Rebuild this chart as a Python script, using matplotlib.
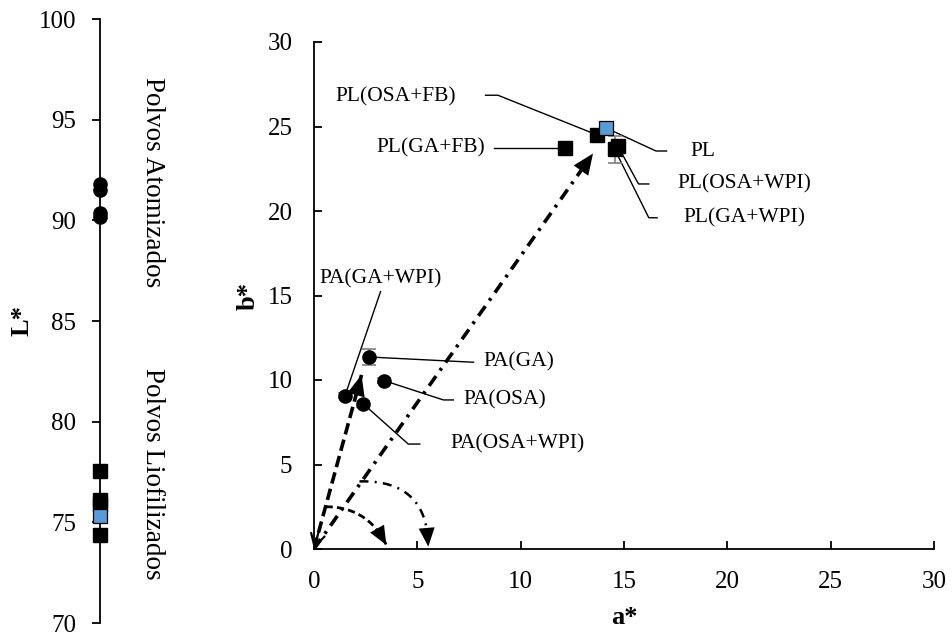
import numpy as np
import matplotlib.pyplot as plt

plt.rcParams['font.family'] = ['Liberation Serif', 'DejaVu Serif']

# Polvos liofilizados (squares)
lyo_labels = ['PL', 'PL(OSA+FB)', 'PL(GA+FB)', 'PL(OSA+WPI)', 'PL(GA+WPI)']
lyo_a = [14.15, 13.7, 12.15, 14.7, 14.55]
lyo_b = [24.9, 24.5, 23.75, 23.85, 23.65]
lyo_b_err = [0.15, 0.15, 0.15, 0.2, 0.8]
lyo_L = [75.3, 76.1, 77.55, 75.9, 74.35]

# Polvos atomizados (circles)
atom_labels = ['PA(GA)', 'PA(OSA)', 'PA(OSA+WPI)', 'PA(GA+WPI)']
atom_a = [2.68, 3.40, 2.39, 1.50]
atom_b = [11.36, 9.96, 8.58, 9.07]
atom_b_err = [0.47, 0.15, 0.15, 0.15]
atom_L = [91.8, 91.5, 90.35, 90.15]

# hue direction of each powder group
pa_hue = (2.3, 10.3)
pl_hue = (13.5, 23.4)

# label text anchor and leader knots (from the marker outward)
label_layout = {
    'PL':          dict(text=(18.2, 23.55), ha='left',   knots=[(16.55, 23.55), (17.06, 23.55)]),
    'PL(OSA+FB)':  dict(text=(6.85, 26.75), ha='right',  knots=[(8.9, 26.85), (8.3, 26.85)]),
    'PL(GA+FB)':   dict(text=(8.3, 23.75),  ha='right',  knots=[(8.7, 23.75)]),
    'PL(OSA+WPI)': dict(text=(17.6, 21.6),  ha='left',   knots=[(15.7, 21.6), (16.2, 21.6)]),
    'PL(GA+WPI)':  dict(text=(17.9, 19.6),  ha='left',   knots=[(16.2, 19.6), (16.6, 19.6)]),
    'PA(GA)':      dict(text=(8.2, 11.05),  ha='left',   knots=[(7.72, 11.05)]),
    'PA(OSA)':     dict(text=(7.22, 8.82),  ha='left',   knots=[(6.26, 8.82), (6.74, 8.82)]),
    'PA(OSA+WPI)': dict(text=(6.58, 6.21),  ha='left',   knots=[(4.56, 6.21), (5.12, 6.21)]),
    'PA(GA+WPI)':  dict(text=(3.24, 16.0),  ha='center', knots=[(3.22, 15.23)]),
}

W, H = 952, 639
TICK_FS = 18
LABEL_FS = 15.5
BLUE = '#5B9BD5'


def px_box(x0, y0, x1, y1):
    return [x0 / W, 1 - y1 / H, (x1 - x0) / W, (y1 - y0) / H]


def bezier(p0, p1, p2, n=80):
    t = np.linspace(0, 1, n)[:, None]
    p0, p1, p2 = np.array(p0), np.array(p1), np.array(p2)
    return (1 - t) ** 2 * p0 + 2 * (1 - t) * t * p1 + t ** 2 * p2


def head(ax, tip, tail, size=20):
    # filled triangular head only, shaft drawn separately
    ax.annotate('', xy=tip, xytext=tail,
                arrowprops=dict(arrowstyle='-|>,head_length=0.75,head_width=0.32',
                                color='black', lw=0, mutation_scale=size,
                                shrinkA=0, shrinkB=0), zorder=5)


fig = plt.figure(figsize=(W / 100, H / 100), dpi=100)

# ---- L* scale ----
ax_L = fig.add_axes(px_box(100, 19, 160, 623))
ax_L.set_xlim(0, 1)
ax_L.set_ylim(70, 100)
for side in ['top', 'right', 'bottom']:
    ax_L.spines[side].set_visible(False)
ax_L.spines['left'].set_linewidth(1.3)
ax_L.set_xticks([])
ax_L.set_yticks(range(70, 101, 5))
ax_L.tick_params(axis='y', direction='out', length=6, width=1.3, pad=11, labelsize=TICK_FS)
ax_L.patch.set_visible(False)

ax_L.plot([0] * len(atom_L), atom_L, 'o', ms=9.5, color='black', clip_on=False, zorder=3)
ax_L.plot([0] * (len(lyo_L) - 1), lyo_L[1:], 's', ms=10, color='black', clip_on=False, zorder=3)
ax_L.plot([0], lyo_L[:1], 's', ms=10, mfc=BLUE, mec='black', mew=0.9, clip_on=False, zorder=4)

fig.text(152 / W, 1 - 77 / H, 'Polvos Atomizados', rotation=-90, ha='center', va='top', fontsize=19.5)
fig.text(152 / W, 1 - 580 / H, 'Polvos Liofilizados', rotation=-90, ha='center', va='bottom', fontsize=19.5)
fig.text(22 / W, 1 - 321 / H, 'L*', rotation=90, ha='center', va='center', fontsize=19, fontweight='bold')

# ---- a* b* plane ----
ax = fig.add_axes(px_box(314, 42, 934, 549))
ax.set_xlim(0, 30)
ax.set_ylim(0, 30)
ax.set_xticks(range(0, 31, 5))
ax.set_yticks(range(0, 31, 5))
for side in ['top', 'right']:
    ax.spines[side].set_visible(False)
for side in ['left', 'bottom']:
    ax.spines[side].set_linewidth(1.3)
ax.tick_params(direction='in', length=6, width=1.3, pad=15.5, labelsize=TICK_FS)
fig.text(248 / W, 1 - 296 / H, 'b*', rotation=90, ha='center', va='center', fontsize=19, fontweight='bold')
fig.text(624 / W, 1 - 618 / H, 'a*', ha='center', va='center', fontsize=19, fontweight='bold')

# hue vectors from the origin
ax.plot([0, pa_hue[0]], [0, pa_hue[1]], color='black', lw=2.6, ls=(0, (3.2, 1.5)), zorder=2)
head(ax, pa_hue, (0, 0))
ax.plot([0, pl_hue[0]], [0, pl_hue[1]], color='black', lw=2.6, ls=(0, (3.3, 1.9, 0.8, 1.9)), zorder=2)
head(ax, pl_hue, (0, 0))
ax.annotate('', xy=(0, 0), xytext=(0.22, 1.0),
            arrowprops=dict(arrowstyle='->,head_length=0.45,head_width=0.25', color='black',
                            lw=1.6, mutation_scale=20, shrinkA=0, shrinkB=0), zorder=5)

# hue angle arcs
arc_pa = bezier((0.56, 2.5), (2.6, 2.5), (3.5, 0.24))
ax.plot(arc_pa[:, 0], arc_pa[:, 1], color='black', lw=2.0, ls=(0, (2.6, 1.5)), zorder=2)
head(ax, tuple(arc_pa[-1]), tuple(arc_pa[-12]), size=18)
arc_pl = bezier((2.2, 4.0), (5.5, 4.1), (5.53, 0.14))
ax.plot(arc_pl[:, 0], arc_pl[:, 1], color='black', lw=1.8, ls=(0, (3.6, 2.5, 0.8, 2.5)), zorder=2)
head(ax, tuple(arc_pl[-1]), tuple(arc_pl[-12]), size=18)

# leader lines and labels
points = dict(zip(lyo_labels + atom_labels,
                  list(zip(lyo_a, lyo_b)) + list(zip(atom_a, atom_b))))
for name, lay in label_layout.items():
    path = np.array([points[name]] + lay['knots'])
    ax.plot(path[:, 0], path[:, 1], color='black', lw=1.0, zorder=1)
    ax.text(lay['text'][0], lay['text'][1], name, ha=lay['ha'], va='center', fontsize=LABEL_FS)

# error bars and markers
ax.errorbar(atom_a, atom_b, yerr=atom_b_err, fmt='none', ecolor='#7f7f7f', elinewidth=1.2,
            capsize=5, capthick=1.2, zorder=3)
ax.errorbar(lyo_a, lyo_b, yerr=lyo_b_err, fmt='none', ecolor='#7f7f7f', elinewidth=1.2,
            capsize=5, capthick=1.2, zorder=3)
ax.plot(atom_a, atom_b, 'o', ms=9.5, color='black', zorder=4)
ax.plot(lyo_a[1:], lyo_b[1:], 's', ms=10, color='black', zorder=4)
ax.plot(lyo_a[:1], lyo_b[:1], 's', ms=10, mfc=BLUE, mec='black', mew=0.9, zorder=6)

fig.savefig('out.png', dpi=100)
